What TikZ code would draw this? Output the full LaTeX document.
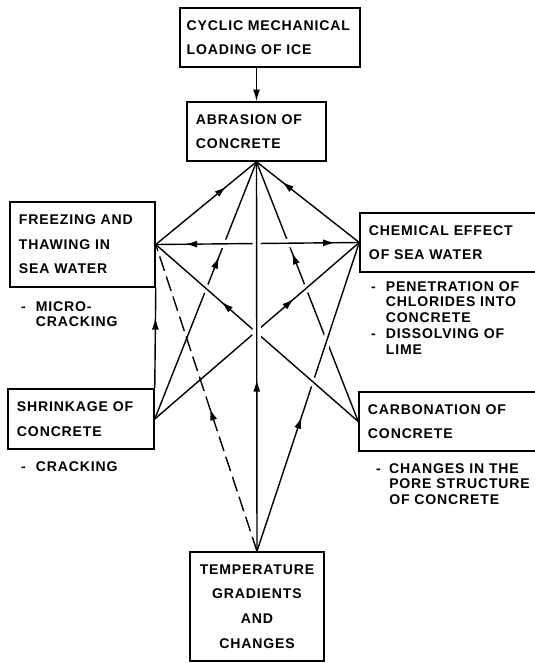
\documentclass[tikz,border=0pt]{standalone}
\usepackage{fontspec}
\setmainfont{Liberation Sans}[LetterSpace=6]
\usetikzlibrary{arrows.meta,decorations.markings}

\tikzset{
  box/.style={draw, line width=1.3pt, inner xsep=0.27cm, inner ysep=0pt, align=left,
    font=\fontsize{12}{21}\selectfont\bfseries},
  note/.style={anchor=base west, inner sep=0pt, font=\fontsize{12}{13.6}\selectfont\bfseries},
  link/.style={line width=1.2pt},
  tip/.style={postaction={decorate,decoration={markings,
    mark=at position #1 with {\arrow{Latex[length=10pt,width=6pt]}}}}},
  backtip/.style={postaction={decorate,decoration={markings,
    mark=at position #1 with {\arrowreversed{Latex[length=10pt,width=6pt]}}}}},
  over/.style={preaction={draw=white, line width=7pt, shorten <=18pt, shorten >=18pt}}
}

\begin{document}
\begin{tikzpicture}[x=0.03cm, y=-0.03cm]
  \useasboundingbox (0,0) rectangle (535,663);

  \node[box, inner xsep=0.2cm, text width=5.0cm, minimum height=1.77cm] (cyclic) at (270,37.5) {CYCLIC MECHANICAL\\LOADING OF ICE};
  \node[box, text width=3.63cm, minimum height=1.77cm] (abrasion) at (256.5,131.5) {ABRASION OF\\CONCRETE};
  \node[box, text width=3.81cm, minimum height=2.55cm] (freezing) at (82.5,244.5) {FREEZING AND\\THAWING IN\\SEA WATER};
  \node[box, text width=4.77cm, minimum height=1.77cm] (chemical) at (448.5,242.5) {CHEMICAL EFFECT\\OF SEA WATER};
  \node[box, text width=3.84cm, minimum height=1.8cm] (shrink) at (81,419) {SHRINKAGE OF\\CONCRETE};
  \node[box, text width=4.80cm, minimum height=1.77cm] (carbon) at (448,421.5) {CARBONATION OF\\CONCRETE};
  \node[box, align=center, inner xsep=0.2cm, text width=3.62cm, minimum height=3.27cm] (temp) at (257,606.5) {TEMPERATURE\\GRADIENTS\\AND\\CHANGES};

  % remarks under the boxes
  \node[note] (microtxt) at (21,311) {\begin{tabular}[t]{@{}l@{\hspace{0.3cm}}l@{}}-&MICRO-\\&CRACKING\end{tabular}};
  \node[note] (chemtxt) at (371,291) {\begin{tabular}[t]{@{}l@{\hspace{0.3cm}}l@{}}-&PENETRATION OF\\&CHLORIDES INTO\\&CONCRETE\\-&DISSOLVING OF\\&LIME\end{tabular}};
  \node[note] (cracktxt) at (21,471) {\begin{tabular}[t]{@{}l@{\hspace{0.3cm}}l@{}}-&CRACKING\end{tabular}};
  \node[note] (carbtxt) at (376,473) {\begin{tabular}[t]{@{}l@{\hspace{0.25cm}}l@{}}-&CHANGES IN THE\\&PORE STRUCTURE\\&OF CONCRETE\end{tabular}};

  \draw[link,-{Latex[length=10pt,width=6pt]}] (abrasion.north |- cyclic.south) -- (abrasion.north);

  \foreach \src/\pos in {freezing.east/0.70, chemical.west/0.75, shrink.east/0.63, carbon.west/0.65}{
    \draw[link,tip=\pos] (\src) -- (abrasion.south);
  }

  % crossing links, drawn over the ones before
  \draw[link,over,backtip=0.146,tip=0.88] (freezing.east) -- (chemical.west);
  \draw[link,over,tip=0.68] (shrink.east) -- (chemical.west);
  \draw[link,over,tip=0.435] (temp.north) -- (chemical.west);
  \draw[link,over,tip=0.675] (carbon.west) -- (freezing.east);
  \draw[link,dash pattern=on 13pt off 5pt,tip=0.465] (temp.north) -- (freezing.east);
  \draw[link,over,tip=0.44] (temp.north) -- (abrasion.south);
  \draw[link,tip=0.70] (shrink.north east) -- (freezing.south east);
\end{tikzpicture}
\end{document}
